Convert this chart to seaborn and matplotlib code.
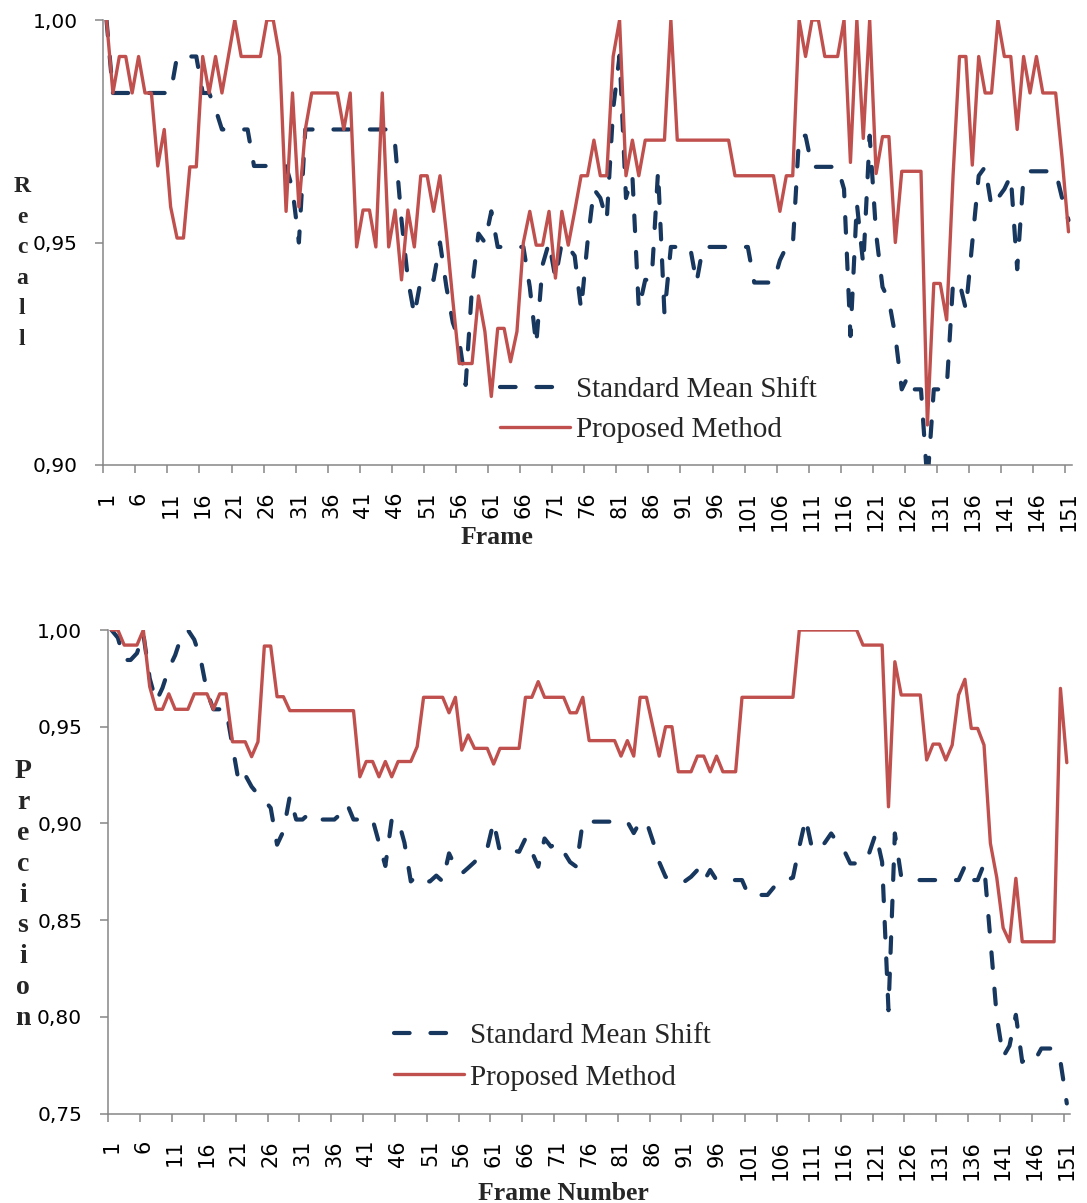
import numpy as np
import pandas as pd
import matplotlib
matplotlib.use("Agg")
import matplotlib.pyplot as plt
import seaborn as sns
from matplotlib.ticker import FixedLocator

# ---------------- data ----------------
frames = list(range(1, 152))
tick_frames = list(range(1, 152, 5))
tick_labels = [str(f) for f in tick_frames]
series_names = ["Standard Mean Shift", "Proposed Method"]

recall_standard = (
    [1.0, 0.9836] + [0.9836] * 8 +
    [0.9836, 0.9918, 0.9918, 0.9918, 0.9918, 0.9836, 0.9836, 0.980, 0.9754, 0.9754,
     0.9754, 0.9754, 0.9754, 0.9672] +
    [0.9672] * 4 +
    [0.9672, 0.962, 0.950, 0.9754] +
    [0.9754] * 13 +
    [0.972, 0.955, 0.9417, 0.9337, 0.9416, 0.9416, 0.9416, 0.950, 0.940, 0.932,
     0.928, 0.918, 0.940, 0.952, 0.950, 0.957, 0.949, 0.949, 0.949, 0.949,
     0.949, 0.940, 0.927, 0.945, 0.950, 0.942, 0.950, 0.949, 0.947, 0.935,
     0.950, 0.962, 0.960, 0.955, 0.980, 0.992, 0.960, 0.965, 0.935, 0.9416,
     0.9416, 0.966, 0.934, 0.949] +
    [0.949] * 3 +
    [0.941, 0.949] +
    [0.949] * 7 +
    [0.941, 0.941, 0.941, 0.941, 0.946, 0.949, 0.949, 0.974, 0.974, 0.967,
     0.967, 0.967, 0.967, 0.967, 0.962, 0.929, 0.9588, 0.945, 0.974, 0.952,
     0.940, 0.937, 0.929, 0.917, 0.920, 0.917, 0.917, 0.896, 0.917, 0.917,
     0.917, 0.941, 0.941, 0.935, 0.950, 0.965, 0.967, 0.958, 0.960, 0.962,
     0.965, 0.944, 0.965, 0.966, 0.966, 0.966, 0.966, 0.966, 0.960, 0.955]
)

recall_proposed = (
    [1.0, 0.9836, 0.9918, 0.9918, 0.9836, 0.9918, 0.9836, 0.9836, 0.9672, 0.9754,
     0.958, 0.951, 0.951, 0.967, 0.967, 0.9918, 0.9836, 0.9918, 0.9836, 0.9918,
     1.0, 0.9918, 0.9918, 0.9918, 0.9918, 1.0, 1.0, 0.9918, 0.957, 0.9836,
     0.958, 0.9754, 0.9836, 0.9836, 0.9836, 0.9836, 0.9836, 0.9754, 0.9836, 0.949,
     0.9573, 0.9573, 0.949, 0.9836, 0.949, 0.9573, 0.9416, 0.9573, 0.949, 0.965,
     0.965, 0.957, 0.965, 0.952, 0.937, 0.9228, 0.9228, 0.9228, 0.938, 0.930,
     0.9154, 0.9307, 0.9307, 0.9232, 0.930, 0.950, 0.957, 0.9494, 0.9494, 0.957,
     0.942, 0.957, 0.9494, 0.957, 0.965, 0.965, 0.973, 0.965, 0.965, 0.9918,
     1.0, 0.965, 0.973, 0.965, 0.973, 0.973, 0.973, 0.973, 1.0] +
    [0.973] * 9 +
    [0.965] +
    [0.965] * 6 +
    [0.957, 0.965, 0.965, 1.0, 0.9918, 1.0, 1.0, 0.9918, 0.9918, 0.9918,
     1.0, 0.968, 1.0, 0.9734, 1.0, 0.9655, 0.9738, 0.9738, 0.950, 0.966,
     0.966, 0.966, 0.966, 0.909, 0.9408, 0.9408, 0.9326, 0.965, 0.9918, 0.9918,
     0.9674, 0.9918, 0.9836, 0.9836, 1.0, 0.9918, 0.9918, 0.9754, 0.9918, 0.9836,
     0.9918, 0.9836, 0.9836, 0.9836, 0.969, 0.9524]
)

precision_standard = (
    [1.0, 0.996, 0.9845, 0.9845, 0.988, 0.998, 0.975, 0.963, 0.970, 0.980,
     0.987, 0.997, 1.0, 0.995, 0.985, 0.968, 0.959, 0.959, 0.959, 0.940,
     0.921, 0.925, 0.919, 0.915, 0.912, 0.908, 0.889, 0.896, 0.914, 0.902,
     0.902, 0.905, 0.902, 0.902, 0.902, 0.902, 0.905, 0.910, 0.902, 0.902,
     0.902, 0.902, 0.890, 0.878, 0.902, 0.902, 0.890, 0.870, 0.873, 0.870,
     0.870, 0.873, 0.870, 0.8845, 0.8776, 0.8741, 0.877, 0.880, 0.8845, 0.887,
     0.9009, 0.8853, 0.8853, 0.886, 0.8853, 0.8922, 0.8853, 0.8776, 0.8922, 0.888,
     0.890, 0.8853, 0.880, 0.8776, 0.9009, 0.9009] +
    [0.9009] * 6 +
    [0.895, 0.9009, 0.9009, 0.891, 0.880, 0.8724, 0.870, 0.870, 0.870, 0.8724,
     0.8759, 0.870, 0.8759, 0.8707, 0.8707, 0.8707, 0.8707, 0.8707, 0.863, 0.863,
     0.863, 0.863, 0.867, 0.8707, 0.8707, 0.872, 0.888, 0.9026, 0.887, 0.8862,
     0.890, 0.8948, 0.890, 0.8862, 0.8793, 0.8793, 0.8793, 0.885, 0.8948, 0.880,
     0.8034, 0.8948, 0.8724, 0.8724, 0.8707, 0.8707] +
    [0.8707] * 6 +
    [0.878, 0.8707, 0.8707, 0.879, 0.840, 0.800, 0.7793, 0.785, 0.801, 0.7767,
     0.7793, 0.7776, 0.7836, 0.7836, 0.7836, 0.777, 0.7552]
)

precision_proposed = (
    [1.0, 1.0, 0.9922, 0.9922, 0.9922, 1.0, 0.9707, 0.959, 0.959, 0.967,
     0.959, 0.959, 0.959, 0.967, 0.967, 0.967, 0.959, 0.967, 0.967, 0.9422,
     0.9422, 0.9422, 0.9345, 0.9422, 0.9917, 0.9917, 0.9655, 0.9655, 0.9583] +
    [0.9583] * 10 +
    [0.9241, 0.932, 0.932, 0.9241, 0.932, 0.9241, 0.932, 0.932, 0.932, 0.9397,
     0.9652, 0.9652, 0.9652, 0.9652, 0.9572, 0.9652, 0.9379, 0.9457, 0.9388, 0.9388,
     0.9388, 0.9307, 0.9388, 0.9388, 0.9388, 0.9388, 0.9652, 0.9652, 0.9733, 0.9652,
     0.9652, 0.9652, 0.9652, 0.9572, 0.9572, 0.9652, 0.9428] +
    [0.9428] * 4 +
    [0.9348, 0.9428, 0.9348, 0.9652, 0.9652, 0.950, 0.9348, 0.950, 0.950, 0.9267,
     0.9267, 0.9267, 0.9348, 0.9348, 0.9267, 0.9348, 0.9267, 0.9267, 0.9267] +
    [0.9652] * 9 +
    [1.0] * 10 +
    [0.9922] * 4 +
    [0.9086, 0.9836] +
    [0.9664] * 4 +
    [0.9328, 0.941, 0.941, 0.9328, 0.9405, 0.9664, 0.9745, 0.9491, 0.9491, 0.9405,
     0.8897, 0.872, 0.846, 0.8388, 0.8716, 0.8388] +
    [0.8388] * 5 +
    [0.9698, 0.9314]
)

recall_ticks = [0.90, 0.95, 1.00]
precision_ticks = [0.75, 0.80, 0.85, 0.90, 0.95, 1.00]

# ---------------- styling ----------------
sns.set_theme(style="white")
plt.rcParams['font.family'] = ['DejaVu Sans']
SERIF = ['Liberation Serif', 'DejaVu Serif']

BLUE = '#17375E'
RED = '#C0504D'
GRAY = '#868686'

W, H = 1087, 1203
fig = plt.figure(figsize=(W / 100, H / 100), dpi=100)


def px_axes(left, top, right, bottom):
    return fig.add_axes([left / W, 1 - bottom / H, (right - left) / W, (bottom - top) / H])


boundaries = [0.5 + 5 * k for k in range(31)]


def draw(ax, std_vals, prop_vals, ylim, yticks, ypad):
    df = pd.DataFrame({"Frame": frames, "std": std_vals, "prop": prop_vals})
    sns.lineplot(data=df, x="Frame", y="std", ax=ax, color=BLUE, linewidth=3.0,
                 linestyle=(0, (3.75, 5.0)), dash_capstyle='round',
                 errorbar=None, label=series_names[0])
    sns.lineplot(data=df, x="Frame", y="prop", ax=ax, color=RED, linewidth=2.4,
                 errorbar=None, label=series_names[1])
    ax.set_xlim(0.5, 151.5)
    ax.set_ylim(*ylim)
    for s in ['top', 'right']:
        ax.spines[s].set_visible(False)
    for s in ['left', 'bottom']:
        ax.spines[s].set_color(GRAY)
        ax.spines[s].set_linewidth(1.1)
    ax.set_yticks(yticks)
    ax.set_yticklabels([f"{v:.2f}".replace('.', ',') for v in yticks])
    ax.set_xticks(tick_frames)
    ax.set_xticklabels(tick_labels, rotation=90)
    ax.xaxis.set_minor_locator(FixedLocator(boundaries))
    ax.tick_params(axis='x', which='major', length=0, pad=19, labelsize=15,
                   labelcolor='black')
    ax.tick_params(axis='x', which='minor', length=5.5, width=1.1, color=GRAY,
                   direction='out', bottom=True)
    ax.tick_params(axis='y', which='major', length=5.8, width=1.1, color=GRAY,
                   direction='out', pad=ypad, labelsize=14.5, labelcolor='black', left=True)
    ax.set_xlabel('')
    ax.set_ylabel('')
    ax.grid(False)
    ax.set_facecolor('white')


ax1 = px_axes(103.3, 20, 1071.7, 465)
draw(ax1, recall_standard, recall_proposed, (0.90, 1.00), recall_ticks, 12.5)
ax2 = px_axes(108.3, 630, 1070, 1113.5)
draw(ax2, precision_standard, precision_proposed, (0.75, 1.00), precision_ticks, 13)


def legend(ax, x_px, top_px, spacing):
    h, l = ax.get_legend_handles_labels()
    ax.legend(h, l, loc='upper left', bbox_to_anchor=(x_px / W, 1 - top_px / H),
              bbox_transform=fig.transFigure, frameon=False, borderpad=0,
              borderaxespad=0, handlelength=2.4, handletextpad=0.22,
              labelspacing=spacing, prop={'family': SERIF, 'size': 21})


legend(ax1, 500, 376.6, 0.48)
legend(ax2, 394, 1022.6, 0.52)


def stacked(letters, x, first_baseline, pitch, size):
    for k, ch in enumerate(letters):
        fig.text(x / W, 1 - (first_baseline + k * pitch) / H, ch, ha='center',
                 va='baseline', fontsize=size, fontweight='bold', family=SERIF)


stacked("Recall", 22, 192, 30.6, 17)
stacked("Precision", 23, 778, 30.9, 20)

fig.text(496.5 / W, 1 - 544 / H, "Frame", ha='center', va='baseline',
         fontsize=18.5, fontweight='bold', family=SERIF)
fig.text(563 / W, 1 - 1200 / H, "Frame Number", ha='center', va='baseline',
         fontsize=18.5, fontweight='bold', family=SERIF)

fig.savefig("out.png", dpi=100, facecolor='white')
